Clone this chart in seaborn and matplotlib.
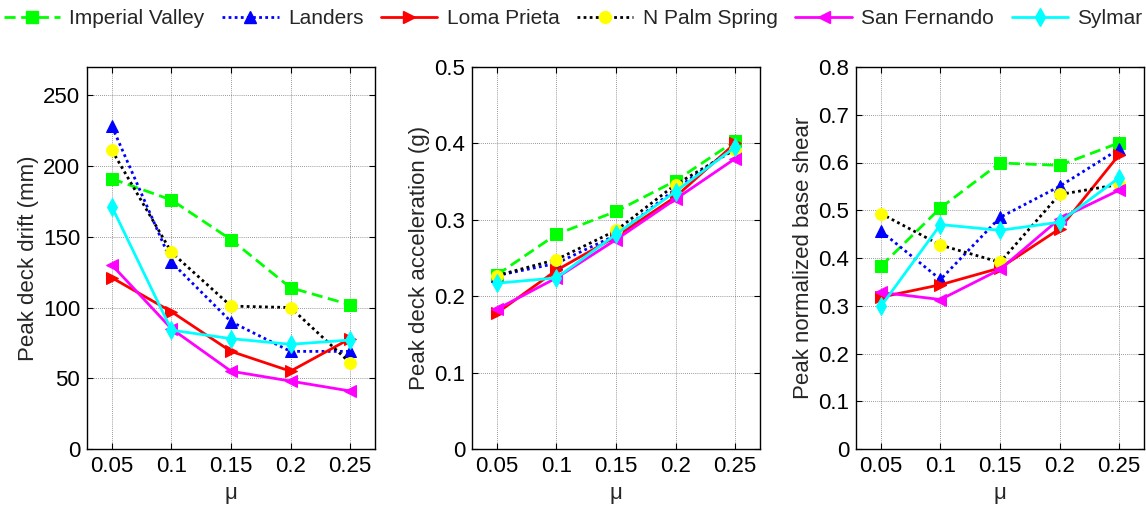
import matplotlib
matplotlib.use("Agg")
import matplotlib.pyplot as plt
from matplotlib.lines import Line2D
import seaborn as sns
import pandas as pd

mu = [0.05, 0.1, 0.15, 0.2, 0.25]
mu_ticklabels = ["0.05", "0.1", "0.15", "0.2", "0.25"]
quakes = ["Imperial Valley", "Landers", "Loma Prieta", "N Palm Spring", "San Fernando", "Sylmar"]

drift_imperial = [191, 176, 148, 114, 102]
drift_landers = [228, 132, 90, 69, 69]
drift_loma = [121, 97, 69, 55, 78]
drift_npalm = [211, 139, 101, 100, 61]
drift_sanfer = [130, 85, 55, 48, 41]
drift_sylmar = [171, 84, 78, 74, 77]

acc_imperial = [0.228, 0.281, 0.311, 0.351, 0.403]
acc_landers = [0.227, 0.243, 0.280, 0.340, 0.395]
acc_loma = [0.178, 0.234, 0.278, 0.330, 0.400]
acc_npalm = [0.227, 0.248, 0.286, 0.346, 0.392]
acc_sanfer = [0.183, 0.224, 0.274, 0.327, 0.380]
acc_sylmar = [0.217, 0.224, 0.281, 0.337, 0.395]

shear_imperial = [0.383, 0.505, 0.599, 0.594, 0.641]
shear_landers = [0.456, 0.355, 0.485, 0.550, 0.628]
shear_loma = [0.318, 0.344, 0.379, 0.461, 0.616]
shear_npalm = [0.493, 0.427, 0.391, 0.533, 0.554]
shear_sanfer = [0.328, 0.313, 0.376, 0.482, 0.542]
shear_sylmar = [0.299, 0.470, 0.458, 0.475, 0.568]

panels = [
    ("Peak deck drift (mm)", [drift_imperial, drift_landers, drift_loma, drift_npalm, drift_sanfer, drift_sylmar],
     (0, 270), [0, 50, 100, 150, 200, 250], ["0", "50", "100", "150", "200", "250"]),
    ("Peak deck acceleration (g)", [acc_imperial, acc_landers, acc_loma, acc_npalm, acc_sanfer, acc_sylmar],
     (0, 0.5), [0, 0.1, 0.2, 0.3, 0.4, 0.5], ["0", "0.1", "0.2", "0.3", "0.4", "0.5"]),
    ("Peak normalized base shear", [shear_imperial, shear_landers, shear_loma, shear_npalm, shear_sanfer, shear_sylmar],
     (0, 0.8), [0, 0.1, 0.2, 0.3, 0.4, 0.5, 0.6, 0.7, 0.8], ["0", "0.1", "0.2", "0.3", "0.4", "0.5", "0.6", "0.7", "0.8"]),
]

styles = {
    "Imperial Valley": dict(color="#00ff00", ls=(0, (4, 2)), marker="s", mfc="#00ff00", mec="#00ff00", ms=8),
    "Landers": dict(color="#0000ff", ls=(0, (1, 1.2)), marker="^", mfc="#0000ff", mec="#0000ff", ms=9),
    "Loma Prieta": dict(color="#ff0000", ls="-", marker=">", mfc="#ff0000", mec="#ff0000", ms=9),
    "N Palm Spring": dict(color="#000000", ls=(0, (1, 1.2)), marker="o", mfc="#ffff00", mec="#ffff00", ms=8.5),
    "San Fernando": dict(color="#ff00ff", ls="-", marker="<", mfc="#ff00ff", mec="#ff00ff", ms=9),
    "Sylmar": dict(color="#00ffff", ls="-", marker="d", mfc="#00ffff", mec="#00ffff", ms=9),
}

FS = 16
LFS = 15
sns.set_theme(style="white")
plt.rcParams["font.family"] = ["Liberation Sans", "DejaVu Sans"]
plt.rcParams["font.size"] = FS

fig = plt.figure(figsize=(11.46, 5.14), dpi=100)
lefts = [87 / 1146, 472 / 1146, 856 / 1146]
width = 288 / 1146
bottom = 1 - 449 / 514
height = (449 - 67) / 514

for i, (ylabel, series, ylim, yticks, yticklabels) in enumerate(panels):
    ax = fig.add_axes([lefts[i], bottom, width, height])
    for name, vals in zip(quakes, series):
        st = styles[name]
        df = pd.DataFrame({"mu": mu, "v": vals})
        sns.lineplot(data=df, x="mu", y="v", ax=ax, color=st["color"], linewidth=2,
                     marker=st["marker"], markersize=st["ms"], markerfacecolor=st["mfc"],
                     markeredgecolor=st["mec"], legend=False)
        ax.lines[-1].set_linestyle(st["ls"])
    ax.set_xlim(0.029, 0.271)
    ax.set_ylim(*ylim)
    ax.set_xticks(mu)
    ax.set_xticklabels(mu_ticklabels, fontsize=FS)
    ax.set_yticks(yticks)
    ax.set_yticklabels(yticklabels, fontsize=FS)
    ax.set_xlabel("μ", fontsize=FS, labelpad=4)
    ax.set_ylabel(ylabel, fontsize=FS, labelpad=3)
    ax.grid(True, color="#555555", linestyle=(0, (1, 1.5)), linewidth=0.6, alpha=0.8)
    ax.tick_params(direction="in", length=4, width=0.8, top=True, right=True,
                   bottom=True, left=True, colors="black", labelsize=FS, pad=5)
    for sp in ax.spines.values():
        sp.set_color("black")
        sp.set_linewidth(1.0)

leg_handles = []
for name in quakes:
    st = styles[name]
    leg_handles.append(Line2D([0], [0], color=st["color"], lw=2, ls=st["ls"], marker=st["marker"],
                              markersize=st["ms"], markerfacecolor=st["mfc"], markeredgecolor=st["mec"]))
fig.legend(leg_handles, quakes, loc="upper center", bbox_to_anchor=(0.5, 1.01), ncol=6,
           frameon=False, fontsize=LFS, handlelength=2.7, handletextpad=0.45, columnspacing=0.85,
           borderaxespad=0.3)

fig.savefig("out.png", dpi=100)
